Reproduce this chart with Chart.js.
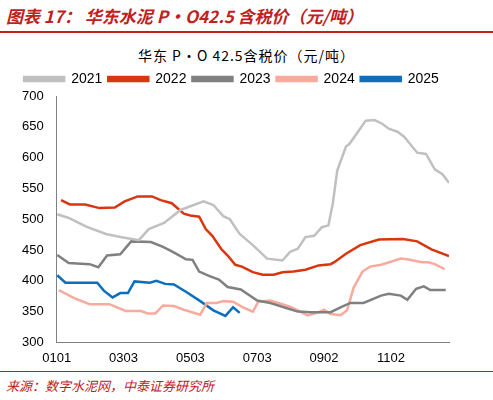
<!DOCTYPE html>
<html><head><meta charset="utf-8">
<script src="https://cdn.jsdelivr.net/npm/chart.js@4"></script>
<style>
body{margin:0;background:#fff;width:493px;height:400px;overflow:hidden;font-family:"Noto Sans CJK SC",sans-serif}
#t{position:absolute;left:6px;top:3px;font-size:17px;font-weight:bold;font-style:italic;color:#c0201e}
#l1{position:absolute;left:0;top:31px;width:493px;height:2px;background:#c0201e}
#l2{position:absolute;left:0;top:371px;width:493px;height:1px;background:#c0201e}
#f{position:absolute;left:6px;top:376px;font-size:13px;font-style:italic;color:#c0201e}
#st{position:absolute;left:0;width:493px;top:45px;text-align:center;font-size:14px;color:#000;letter-spacing:1px}
#w{position:absolute;left:0;top:66px;width:493px;height:303px}
</style></head><body>
<div id="t">图表 17： 华东水泥 P·O42.5 含税价（元/吨）</div><div id="l1"></div>
<div id="st">华东 P·O 42.5含税价（元/吨）</div>
<div id="w"><canvas id="c"></canvas></div>
<div id="l2"></div><div id="f">来源：数字水泥网，中泰证券研究所</div>
<script>
const xLabels=['0101','0303','0503','0703','0902','1102'];
const seriesNames=['2021','2022','2023','2024','2025'];
const d2021=[0.5,11,27,45,58,75,84,98,113,134,143,152,158,167,179,192,206,213,220,227,235,242,248,252,256,264,267,275,282,290,297,303,311,317,329,337,345,352,358];
const v2021=[508,502,488,476,471,466,484,494,515,529,523,505,500,476,458,436,433,447,452,471,473,487,490,526,579,618,622,642,660,661,655,647,642,634,608,606,581,573,559];
const d2022=[4,12,26,39,53,62,74,87,95,105,116,122,130,136,142,150,156,163,169,179,188,198,206,216,227,239,250,254,264,277,294,316,329,342,358];
const v2022=[531,524,524,518,519,529,537,537,531,526,509,506,504,484,473,452,441,426,423,414,410,410,414,415,418,425,427,431,444,458,467,468,464,451,440];
const d2023=[0.5,11,30,38,46,58,68,86,97,106,118,124,130,139,148,156,168,183,195,211,220,232,250,259,268,280,296,303,314,320,328,335,341,355];
const v2023=[442,429,427,422,441,443,464,463,455,447,435,434,415,408,402,390,386,368,364,355,350,349,349,357,364,364,376,379,376,369,387,391,385,385];
const d2024=[2,16,30,48,63,77,83,90,97,107,116,131,137,146,152,161,170,179,184,195,213,229,239,244,250,259,265,271,279,286,296,305,314,320,333,339,345,354];
const v2024=[385,372,362,362,351,351,347,347,360,359,353,345,364,364,367,366,357,350,366,368,358,344,349,353,346,344,352,389,415,423,426,431,436,435,430,430,427,419];
const d2025=[0.5,8,37,43,51,58,65,71,85,91,99,107,119,131,143,154,161,167];
const v2025=[409,397,397,384,373,380,380,399,397,400,395,394,381,367,352,343,357,348];
const colors=['#c0c0c0','#d9360f','#808080','#f8aa9c','#0b6fbd'];
const ds=[[d2021,v2021],[d2022,v2022],[d2023,v2023],[d2024,v2024],[d2025,v2025]];
new Chart(document.getElementById('c'),{type:'line',
data:{datasets:ds.map((p,i)=>({label:seriesNames[i],data:p[0].map((x,j)=>({x:x,y:p[1][j]})),borderColor:colors[i],backgroundColor:colors[i],borderWidth:2.5,pointRadius:0,tension:0}))},
options:{responsive:true,maintainAspectRatio:false,animation:false,
layout:{padding:{left:14,right:44,top:0,bottom:0}},
plugins:{legend:{labels:{boxWidth:40,boxHeight:4,font:{family:'Liberation Sans',size:14},color:'#000',padding:6}},tooltip:{enabled:false}},
scales:{x:{type:'linear',min:0,max:358,grid:{display:false,drawTicks:true,tickLength:5,color:'#808080'},border:{color:'#808080'},
ticks:{stepSize:30.5,autoSkip:false,maxRotation:0,color:'#000',font:{family:'Liberation Sans',size:13},callback:(v,i)=>i%2===0?(xLabels[i/2]||''):''},
afterBuildTicks:a=>{a.ticks=[];for(let k=0;k<12;k++)a.ticks.push({value:k*30.5});}},
y:{min:300,max:700,grid:{display:false,drawTicks:true,tickLength:5},border:{color:'#808080'},
ticks:{stepSize:50,padding:8,color:'#000',font:{family:'Liberation Sans',size:13}}}}}});
</script></body></html>
